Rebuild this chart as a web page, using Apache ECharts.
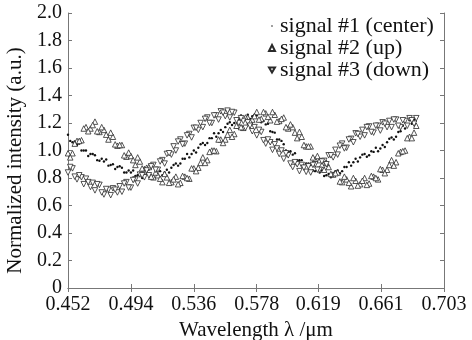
<!DOCTYPE html>
<html>
<head>
<meta charset="utf-8">
<script src="https://cdn.jsdelivr.net/npm/echarts@6/dist/echarts.min.js"></script>
<style>
  html, body { margin: 0; padding: 0; background: #fff; }
  #chart { width: 472px; height: 340px; }
</style>
</head>
<body>
<div id="chart"></div>
<script>
// wavelength samples (um), two interleaved sweeps
const wavelengthA = [
  0.452, 0.455, 0.458, 0.461, 0.464, 0.467, 0.470, 0.473, 0.476, 0.479,
  0.482, 0.485, 0.488, 0.491, 0.494, 0.497, 0.500, 0.503, 0.506, 0.509,
  0.512, 0.515, 0.518, 0.521, 0.524, 0.527, 0.530, 0.533, 0.536, 0.539,
  0.542, 0.545, 0.548, 0.551, 0.554, 0.557, 0.560, 0.563, 0.566, 0.569,
  0.572, 0.575, 0.578, 0.581, 0.584, 0.587, 0.590, 0.593, 0.596, 0.599,
  0.602, 0.605, 0.608, 0.611, 0.614, 0.617, 0.620, 0.623, 0.626, 0.629,
  0.632, 0.635, 0.638, 0.641, 0.644, 0.647, 0.650, 0.653, 0.656, 0.659,
  0.662, 0.665, 0.668, 0.671, 0.674, 0.677, 0.680, 0.683
];
const wavelengthB = [
  0.4535, 0.4565, 0.4595, 0.4625, 0.4655, 0.4685, 0.4715, 0.4745, 0.4775, 0.4805,
  0.4835, 0.4865, 0.4895, 0.4925, 0.4955, 0.4985, 0.5015, 0.5045, 0.5075, 0.5105,
  0.5135, 0.5165, 0.5195, 0.5225, 0.5255, 0.5285, 0.5315, 0.5345, 0.5375, 0.5405,
  0.5435, 0.5465, 0.5495, 0.5525, 0.5555, 0.5585, 0.5615, 0.5645, 0.5675, 0.5705,
  0.5735, 0.5765, 0.5795, 0.5825, 0.5855, 0.5885, 0.5915, 0.5945, 0.5975, 0.6005,
  0.6035, 0.6065, 0.6095, 0.6125, 0.6155, 0.6185, 0.6215, 0.6245, 0.6275, 0.6305,
  0.6335, 0.6365, 0.6395, 0.6425, 0.6455, 0.6485, 0.6515, 0.6545, 0.6575, 0.6605,
  0.6635, 0.6665, 0.6695, 0.6725, 0.6755, 0.6785, 0.6815, 0.6845
];
// signal #1 (center)
const centerA = [
  1.115, 1.06, 1.04, 1.00, 1.00, 0.975, 0.965, 0.925, 0.92, 0.89,
  0.90, 0.88, 0.875, 0.84, 0.84, 0.815, 0.83, 0.82, 0.825, 0.805,
  0.82, 0.82, 0.86, 0.875, 0.905, 0.905, 0.94, 0.95, 1.00, 1.02,
  1.055, 1.055, 1.09, 1.10, 1.15, 1.17, 1.205, 1.20, 1.23, 1.225,
  1.26, 1.25, 1.255, 1.205, 1.19, 1.14, 1.13, 1.08, 1.045, 0.99,
  0.97, 0.93, 0.93, 0.905, 0.895, 0.85, 0.84, 0.815, 0.83, 0.835,
  0.855, 0.85, 0.88, 0.89, 0.94, 0.95, 0.975, 0.965, 0.99, 0.995,
  1.04, 1.06, 1.095, 1.10, 1.14, 1.16, 1.22, 1.225
];
const centerB = [
  1.07, 1.065, 1.05, 1.00, 0.96, 0.975, 0.93, 0.94, 0.935, 0.895,
  0.865, 0.885, 0.84, 0.855, 0.855, 0.82, 0.80, 0.83, 0.80, 0.83,
  0.85, 0.84, 0.84, 0.895, 0.89, 0.94, 0.975, 0.975, 0.985, 1.045,
  1.04, 1.09, 1.125, 1.125, 1.135, 1.195, 1.185, 1.23, 1.255, 1.24,
  1.23, 1.26, 1.215, 1.215, 1.195, 1.135, 1.08, 1.07, 1.00, 0.995,
  0.98, 0.93, 0.89, 0.905, 0.855, 0.86, 0.855, 0.82, 0.805, 0.85,
  0.835, 0.88, 0.915, 0.915, 0.92, 0.97, 0.955, 0.995, 1.02, 1.015,
  1.025, 1.085, 1.08, 1.135, 1.18, 1.19, 1.195, 1.24
];
// signal #2 (up)
const upA = [
  0.98, 0.98, 1.07, 1.075, 1.17, 1.16, 1.21, 1.135, 1.15, 1.08,
  1.10, 1.035, 1.04, 0.955, 0.96, 0.895, 0.92, 0.865, 0.88, 0.805,
  0.82, 0.77, 0.805, 0.77, 0.81, 0.765, 0.81, 0.795, 0.87, 0.875,
  0.95, 0.93, 1.00, 0.995, 1.08, 1.08, 1.15, 1.12, 1.18, 1.165,
  1.24, 1.225, 1.28, 1.23, 1.27, 1.22, 1.26, 1.215, 1.24, 1.16,
  1.17, 1.09, 1.10, 1.03, 1.03, 0.935, 0.93, 0.86, 0.88, 0.825,
  0.84, 0.77, 0.79, 0.74, 0.78, 0.755, 0.80, 0.76, 0.81, 0.79,
  0.86, 0.86, 0.93, 0.915, 0.99, 1.00, 1.10, 1.13
];
const upB = [
  0.95, 1.05, 1.07, 1.16, 1.14, 1.185, 1.14, 1.17, 1.115, 1.13,
  1.045, 1.04, 0.965, 0.985, 0.93, 0.95, 0.87, 0.875, 0.81, 0.84,
  0.795, 0.83, 0.765, 0.79, 0.755, 0.815, 0.80, 0.87, 0.85, 0.91,
  0.91, 0.99, 1.00, 1.08, 1.055, 1.115, 1.10, 1.18, 1.17, 1.24,
  1.21, 1.25, 1.225, 1.28, 1.245, 1.28, 1.21, 1.23, 1.17, 1.19,
  1.13, 1.135, 1.04, 1.03, 0.95, 0.96, 0.895, 0.91, 0.83, 0.835,
  0.775, 0.81, 0.765, 0.80, 0.745, 0.78, 0.75, 0.815, 0.80, 0.865,
  0.835, 0.895, 0.89, 0.98, 0.995, 1.09, 1.09, 1.18
];
// signal #3 (down)
const downA = [
  0.84, 0.87, 0.79, 0.805, 0.795, 0.735, 0.71, 0.75, 0.68, 0.715,
  0.725, 0.695, 0.70, 0.77, 0.73, 0.79, 0.825, 0.805, 0.82, 0.895,
  0.86, 0.93, 0.975, 0.97, 1.00, 1.08, 1.05, 1.12, 1.165, 1.15,
  1.17, 1.24, 1.20, 1.255, 1.285, 1.25, 1.24, 1.275, 1.20, 1.215,
  1.205, 1.14, 1.11, 1.135, 1.05, 1.06, 1.045, 0.975, 0.94, 0.965,
  0.88, 0.90, 0.895, 0.845, 0.84, 0.90, 0.86, 0.925, 0.965, 0.95,
  0.97, 1.05, 1.02, 1.085, 1.125, 1.10, 1.11, 1.175, 1.13, 1.18,
  1.205, 1.17, 1.17, 1.225, 1.17, 1.215, 1.235, 1.195
];
const downB = [
  0.88, 0.81, 0.82, 0.755, 0.77, 0.765, 0.755, 0.695, 0.72, 0.675,
  0.715, 0.74, 0.76, 0.73, 0.785, 0.76, 0.82, 0.855, 0.885, 0.86,
  0.92, 0.905, 0.98, 1.03, 1.065, 1.045, 1.11, 1.095, 1.165, 1.20,
  1.23, 1.20, 1.255, 1.225, 1.275, 1.29, 1.28, 1.22, 1.235, 1.165,
  1.18, 1.17, 1.15, 1.075, 1.08, 1.005, 1.015, 1.00, 0.98, 0.905,
  0.915, 0.85, 0.875, 0.885, 0.895, 0.86, 0.92, 0.90, 0.965, 1.005,
  1.035, 1.015, 1.08, 1.06, 1.12, 1.15, 1.17, 1.135, 1.18, 1.145,
  1.195, 1.215, 1.225, 1.18, 1.22, 1.18, 1.22, 1.235
];
const xTicks = [0.452, 0.494, 0.536, 0.578, 0.619, 0.661, 0.703];

const font = 'Liberation Serif';
const myChart = echarts.init(document.getElementById('chart'));

const toPairs = (xs, ys) => xs.map((x, i) => [x, ys[i]]);
const merge = (ya, yb) => toPairs(wavelengthA, ya).concat(toPairs(wavelengthB, yb));

const axisLineStyle = { color: '#777', width: 1 };
const triStyle = { color: '#fff', borderColor: '#2a2a2a', borderWidth: 0.8, opacity: 1 };

const option = {
  animation: false,
  backgroundColor: '#fff',
  grid: { left: 68, right: 28, top: 13, bottom: 52, containLabel: false, outerBoundsMode: 'none' },
  legend: {
    orient: 'vertical',
    left: 263,
    top: 10,
    itemWidth: 6,
    itemHeight: 6,
    itemGap: 0,
    textStyle: { fontFamily: font, fontSize: 22, color: '#111', lineHeight: 21 },
    data: [
      { name: 'signal #1 (center)', icon: 'path://M0,0 M10,10 M3.8,5 A1.2,1.2 0 1 1 6.2,5 A1.2,1.2 0 1 1 3.8,5 Z' },
      { name: 'signal #2 (up)', icon: 'triangle' },
      { name: 'signal #3 (down)', icon: 'path://M0,0 L10,0 L5,8.66 Z' }
    ]
  },
  xAxis: [
    {
      type: 'value',
      min: 0.452,
      max: 0.703,
      name: 'Wavelength λ /μm',
      nameLocation: 'middle',
      nameGap: 28,
      nameTextStyle: { fontFamily: font, fontSize: 21, color: '#111' },
      axisLine: { lineStyle: axisLineStyle },
      axisTick: { inside: true, length: 4, lineStyle: axisLineStyle, customValues: xTicks },
      axisLabel: {
        fontFamily: font, fontSize: 20, color: '#111', margin: 7,
        customValues: xTicks,
        formatter: (v) => v.toFixed(3)
      },
      splitLine: { show: false }
    },
    {
      type: 'value',
      position: 'top',
      min: 0.452,
      max: 0.703,
      axisLine: { lineStyle: axisLineStyle },
      axisTick: { inside: true, length: 4, lineStyle: axisLineStyle, customValues: xTicks },
      axisLabel: { show: false, customValues: xTicks },
      splitLine: { show: false }
    }
  ],
  yAxis: [
    {
      type: 'value',
      min: 0,
      max: 2,
      interval: 0.2,
      name: 'Normalized intensity (a.u.)',
      nameLocation: 'middle',
      nameGap: 42,
      nameTextStyle: { fontFamily: font, fontSize: 21, color: '#111', padding: [0, 20, 0, 0] },
      axisLine: { show: true, lineStyle: axisLineStyle },
      axisTick: { show: true, inside: true, length: 4, lineStyle: axisLineStyle },
      axisLabel: {
        fontFamily: font, fontSize: 20, color: '#111', margin: 6,
        formatter: (v) => (v === 0 ? '0' : v.toFixed(1))
      },
      splitLine: { show: false }
    },
    {
      type: 'value',
      position: 'right',
      min: 0,
      max: 2,
      interval: 0.2,
      axisLine: { show: true, lineStyle: axisLineStyle },
      axisTick: { show: true, inside: true, length: 4, lineStyle: axisLineStyle },
      axisLabel: { show: false },
      splitLine: { show: false }
    }
  ],
  series: [
    {
      name: 'signal #1 (center)',
      type: 'scatter',
      symbol: 'circle',
      symbolSize: 2.4,
      itemStyle: { color: '#111', opacity: 1 },
      data: merge(centerA, centerB)
    },
    {
      name: 'signal #2 (up)',
      type: 'scatter',
      symbol: 'triangle',
      symbolSize: 5.5,
      itemStyle: triStyle,
      data: merge(upA, upB)
    },
    {
      name: 'signal #3 (down)',
      type: 'scatter',
      symbol: 'triangle',
      symbolRotate: 180,
      symbolSize: 5.5,
      itemStyle: triStyle,
      data: merge(downA, downB)
    }
  ]
};

myChart.setOption(option);
</script>
</body>
</html>
